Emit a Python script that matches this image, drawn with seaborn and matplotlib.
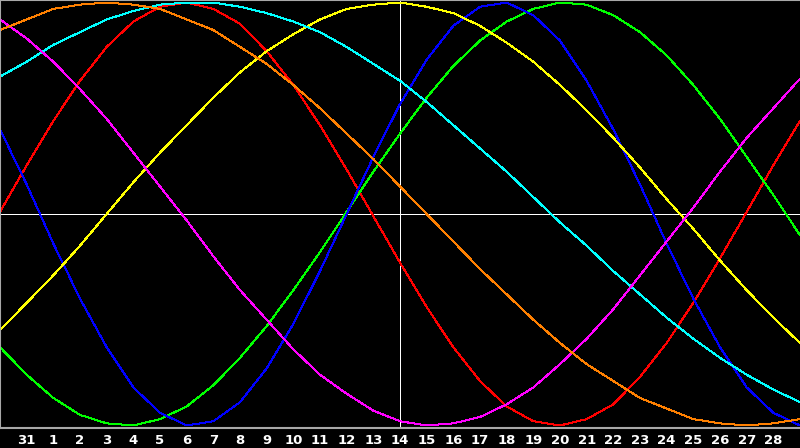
import pandas as pd
import matplotlib
matplotlib.use("Agg")
import matplotlib.pyplot as plt
import seaborn as sns

# day positions: -1 is the 30th (left edge), 0 is the 31st, 1..28, 29 at the right edge
day_index = list(range(-1, 30))
tick_index = list(range(0, 29))
tick_labels = ["31"] + [str(d) for d in range(1, 29)]
marker_day = 14

red = [0.01, 0.23, 0.44, 0.63, 0.79, 0.91, 0.98, 1.00, 0.97, 0.90, 0.77, 0.61, 0.42, 0.21, -0.01, -0.23,
       -0.44, -0.63, -0.79, -0.91, -0.98, -1.00, -0.97, -0.90, -0.77, -0.61, -0.42, -0.21, 0.01, 0.23, 0.44]
green = [-0.63, -0.76, -0.87, -0.95, -0.99, -1.00, -0.97, -0.91, -0.81, -0.68, -0.53, -0.36, -0.18, 0.01,
         0.20, 0.38, 0.55, 0.70, 0.82, 0.91, 0.97, 1.00, 0.99, 0.94, 0.86, 0.75, 0.61, 0.45, 0.27, 0.09, -0.10]
blue = [0.40, 0.14, -0.14, -0.40, -0.63, -0.82, -0.94, -1.00, -0.98, -0.89, -0.73, -0.52, -0.27, 0.00, 0.27,
        0.52, 0.73, 0.89, 0.98, 1.00, 0.94, 0.82, 0.63, 0.40, 0.14, -0.14, -0.40, -0.63, -0.82, -0.94, -1.00]
yellow = [-0.55, -0.42, -0.29, -0.15, 0.00, 0.15, 0.29, 0.42, 0.55, 0.67, 0.77, 0.85, 0.92, 0.97, 0.99, 1.00,
          0.98, 0.95, 0.89, 0.81, 0.72, 0.61, 0.49, 0.36, 0.22, 0.07, -0.07, -0.22, -0.36, -0.49, -0.61]
cyan = [0.65, 0.72, 0.80, 0.86, 0.92, 0.96, 0.99, 1.00, 1.00, 0.98, 0.95, 0.91, 0.86, 0.79, 0.71, 0.63,
        0.53, 0.42, 0.31, 0.20, 0.08, -0.04, -0.15, -0.27, -0.38, -0.49, -0.59, -0.68, -0.76, -0.83, -0.89]
magenta = [0.92, 0.83, 0.72, 0.59, 0.45, 0.29, 0.13, -0.03, -0.20, -0.36, -0.50, -0.64, -0.76, -0.85, -0.93, -0.98,
           -1.00, -0.99, -0.96, -0.90, -0.82, -0.71, -0.59, -0.45, -0.29, -0.13, 0.03, 0.20, 0.36, 0.50, 0.64]
orange = [0.87, 0.92, 0.97, 0.99, 1.00, 0.99, 0.97, 0.92, 0.87, 0.79, 0.71, 0.61, 0.50, 0.38, 0.26, 0.13, 0.00,
          -0.13, -0.26, -0.38, -0.50, -0.61, -0.71, -0.79, -0.87, -0.92, -0.97, -0.99, -1.00, -0.99, -0.97]

cycles = {"red": red, "green": green, "blue": blue, "yellow": yellow,
          "cyan": cyan, "magenta": magenta, "orange": orange}
colors = {"red": "#ff0000", "green": "#00ff00", "blue": "#0000ff", "yellow": "#ffff00",
          "cyan": "#00ffff", "magenta": "#ff00ff", "orange": "#ff8000"}

rows = []
for name, vals in cycles.items():
    for d, v in zip(day_index, vals):
        rows.append({"day": d, "value": v, "cycle": name})
df = pd.DataFrame(rows)

sns.set_style("dark", {"axes.facecolor": "black", "figure.facecolor": "black"})

fig = plt.figure(figsize=(8, 4.48), dpi=100)
ax = fig.add_axes([0, 20 / 448, 1, 428 / 448])

ax.axhline(0, color="white", lw=0.72, antialiased=False, zorder=1)
ax.axvline(marker_day, color="white", lw=0.72, antialiased=False, zorder=1)

sns.lineplot(data=df, x="day", y="value", hue="cycle", palette=colors, estimator=None,
             legend=False, lw=0.72, antialiased=False, ax=ax, zorder=2)

ax.set_xlim(-1, 29)
ax.set_ylim(-1.012, 1.012)
ax.set_xticks(tick_index)
ax.set_xticklabels(tick_labels)
ax.set_yticks([])
ax.set_xlabel("")
ax.set_ylabel("")
ax.grid(False)

ax.tick_params(axis="x", direction="in", length=4, width=1, color="white",
               labelcolor="white", labelsize=9.5, pad=4)
for lab in ax.get_xticklabels():
    lab.set_fontweight("bold")
    lab.set_family("DejaVu Sans")

for side in ["left", "top", "bottom"]:
    ax.spines[side].set_visible(True)
    ax.spines[side].set_color("#a8a8a8")
    ax.spines[side].set_linewidth(1.5)
ax.spines["right"].set_visible(False)

fig.savefig("out.png", dpi=100, facecolor="black")
